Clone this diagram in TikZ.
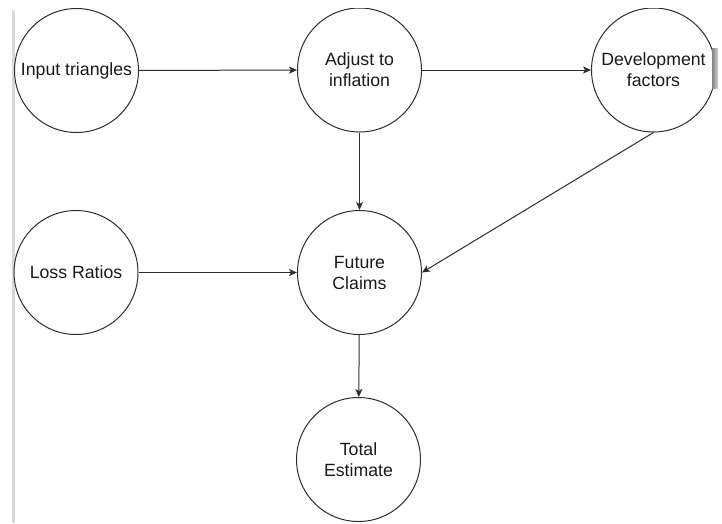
\documentclass[tikz,border=0pt]{standalone}
\usepackage{fontspec}
\setmainfont{Liberation Sans}
\usetikzlibrary{arrows.meta}
\definecolor{ink}{HTML}{2E2E2E}
\definecolor{txt}{HTML}{1A1A1A}
\definecolor{rail}{HTML}{D9D9D9}
\tikzset{
  stage/.style={circle, draw=ink, line width=1pt, fill=white,
    minimum size=124pt, inner sep=0pt, align=center, text=txt,
    font=\fontsize{17.7}{21}\selectfont},
  flow/.style={draw=ink, line width=1pt,
    -{Stealth[length=8pt,width=7pt,inset=2pt]}}
}
\begin{document}
\begin{tikzpicture}[x=1pt,y=-1pt]
  \useasboundingbox (0,0) rectangle (722,523);
  \fill[white] (0,0) rectangle (722,523);
  % left rail
  \fill[rail] (12,10) rectangle (14.6,523);

  \node[stage] (inp) at (76.5,70.5) {Input triangles};
  \node[stage] (adj) at (359.5,70) {Adjust to\\inflation};
  \node[stage] (dev) at (653.5,70) {Development\\factors};
  \node[stage] (loss) at (76,272.5) {Loss Ratios};
  \node[stage] (fut) at (359.5,272.5) {Future\\Claims};
  \node[stage] (tot) at (358.5,459.5) {Total\\Estimate};

  \draw[flow] (inp) -- (adj);
  \draw[flow] (adj) -- (dev);
  \draw[flow] (adj) -- (fut);
  \draw[flow] (loss) -- (fut);
  \draw[flow] (dev.south) -- (fut.east);
  \draw[flow] (fut) -- (tot);

  % shadow at the right edge
  \shade[left color=gray!95, right color=gray!35] (712,48) rectangle (718,88);
  % top edge trim
  \fill[white] (0,0) rectangle (722,8.4);
\end{tikzpicture}
\end{document}
